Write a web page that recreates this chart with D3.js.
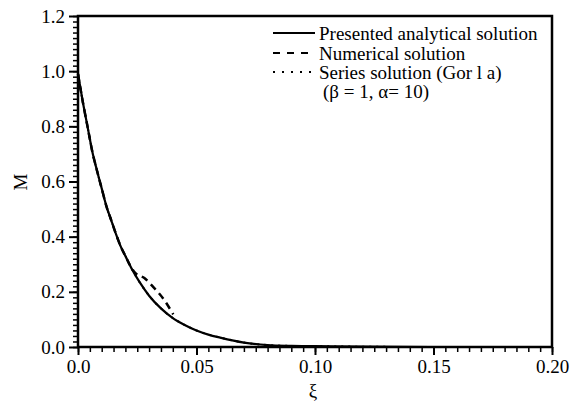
<!DOCTYPE html>
<html><head><meta charset="utf-8">
<script src="https://cdn.jsdelivr.net/npm/d3@7"></script>
<style>
body{margin:0;background:#fff;}
svg text{font-family:"Liberation Serif","Times New Roman",serif !important;fill:#000;}
</style></head>
<body><svg id="c" width="573" height="406"></svg>
<script>
// ---- data ----
const xiAnalytical = [0,0.002,0.004,0.006,0.008,0.010,0.012,0.014,0.016,0.018,0.020,0.023,0.026,0.030,0.035,0.040,0.045,0.050,0.055,0.060,0.070,0.080,0.090,0.100,0.120,0.150,0.200];
const mAnalytical  = [0.99,0.89,0.80,0.71,0.64,0.575,0.51,0.46,0.41,0.365,0.33,0.278,0.235,0.186,0.14,0.105,0.08,0.06,0.045,0.034,0.016,0.007,0.004,0.003,0.001,0.0,0.0];
const xiNumerical  = [0,0.002,0.004,0.006,0.008,0.010,0.012,0.014,0.016,0.018,0.020,0.022,0.024,0.028,0.032,0.036,0.0402];
const mNumerical   = [0.99,0.89,0.80,0.71,0.64,0.575,0.51,0.46,0.41,0.365,0.33,0.295,0.27,0.25,0.215,0.175,0.118];
const xiSeries     = [0,0.002,0.004,0.006,0.008,0.010,0.012,0.014,0.016,0.018,0.020,0.023,0.026,0.030,0.035,0.040,0.045,0.050,0.055,0.060,0.070,0.080,0.090,0.100,0.120,0.150,0.200];
const mSeries      = [0.99,0.89,0.80,0.71,0.64,0.575,0.51,0.46,0.41,0.365,0.33,0.278,0.235,0.186,0.14,0.105,0.08,0.06,0.045,0.034,0.016,0.007,0.004,0.003,0.001,0.0,0.0];
const xTicks = [0,0.05,0.10,0.15,0.20];
const xTickLabels = ["0.0","0.05","0.10","0.15","0.20"];
const yTicks = [0,0.2,0.4,0.6,0.8,1.0,1.2];
const yTickLabels = ["0.0","0.2","0.4","0.6","0.8","1.0","1.2"];
const legendLabels = ["Presented analytical solution","Numerical solution","Series solution (Gor l a)"];
const legendNote = "(\u03B2 = 1, \u03B1= 10)";
const xTitle = "\u03BE", yTitle = "M";

const FONT = '"Liberation Serif","Times New Roman",serif';
const svg = d3.select("#c");
const L=78, R=552, T=16, B=347;
const x = d3.scaleLinear().domain([0,0.2]).range([L,R]);
const y = d3.scaleLinear().domain([0,1.2]).range([B,T]);

// minor ticks
const xMinor = d3.range(0,0.2001,0.005);
const yMinor = d3.range(0,1.2001,0.02);
svg.append("g").attr("transform",`translate(0,${B})`)
  .call(d3.axisBottom(x).tickValues(xMinor).tickSize(5).tickSizeOuter(0).tickFormat(""))
  .call(g=>g.select(".domain").remove())
  .call(g=>g.selectAll("line").attr("stroke-width",1.5));
svg.append("g").attr("transform",`translate(${L},0)`)
  .call(d3.axisLeft(y).tickValues(yMinor).tickSize(5).tickSizeOuter(0).tickFormat(""))
  .call(g=>g.select(".domain").remove())
  .call(g=>g.selectAll("line").attr("stroke-width",1.5));
// major ticks
svg.append("g").attr("transform",`translate(0,${B})`)
  .call(d3.axisBottom(x).tickValues(xTicks).tickSize(8).tickPadding(5).tickSizeOuter(0).tickFormat((d,i)=>xTickLabels[i]))
  .call(g=>g.attr("font-family",FONT).attr("font-size",19))
  .call(g=>g.select(".domain").remove())
  .call(g=>g.selectAll("line").attr("stroke-width",2))
  .call(g=>g.selectAll("text").style("font-family",FONT).style("font-size","19px"));
svg.append("g").attr("transform",`translate(${L},0)`)
  .call(d3.axisLeft(y).tickValues(yTicks).tickSize(9).tickPadding(4).tickSizeOuter(0).tickFormat((d,i)=>yTickLabels[i]))
  .call(g=>g.attr("font-family",FONT).attr("font-size",19))
  .call(g=>g.select(".domain").remove())
  .call(g=>g.selectAll("line").attr("stroke-width",2))
  .call(g=>g.selectAll("text").style("font-family",FONT).style("font-size","19px"));

// frame
svg.append("rect").attr("x",L).attr("y",T).attr("width",R-L).attr("height",B-T)
  .attr("fill","none").attr("stroke","#000").attr("stroke-width",2.5);

const line = d3.line().x(d=>x(d[0])).y(d=>y(d[1])).curve(d3.curveMonotoneX);
const zip=(a,b)=>a.map((v,i)=>[v,b[i]]);
svg.append("path").datum(zip(xiSeries,mSeries)).attr("d",line)
  .attr("fill","none").attr("stroke","#000").attr("stroke-width",2).attr("stroke-dasharray","2,5");
svg.append("path").datum(zip(xiNumerical,mNumerical)).attr("d",line)
  .attr("fill","none").attr("stroke","#000").attr("stroke-width",2.5).attr("stroke-dasharray","7,5");
svg.append("path").datum(zip(xiAnalytical,mAnalytical)).attr("d",line)
  .attr("fill","none").attr("stroke","#000").attr("stroke-width",2.2);

// legend
const lg = svg.append("g");
const rows=[33,53,72];
const dashes=[null,"7,7","2,7"];
rows.forEach((ry,i)=>{
  lg.append("line").attr("x1",273).attr("x2",315).attr("y1",ry).attr("y2",ry)
    .attr("stroke","#000").attr("stroke-width",2).attr("stroke-dasharray",dashes[i]);
  lg.append("text").attr("x",319).attr("y",ry).attr("dy","0.35em").style("font-size","19px").text(legendLabels[i]);
});
lg.append("text").attr("x",323).attr("y",91).attr("dy","0.35em").style("font-size","19px").text(legendNote);

// axis titles
svg.append("text").attr("x",313).attr("y",397).attr("text-anchor","middle").style("font-size","19px").text(xTitle);
svg.append("text").attr("transform","translate(27,182) rotate(-90)").attr("text-anchor","middle").style("font-size","19px").text(yTitle);
</script></body></html>
